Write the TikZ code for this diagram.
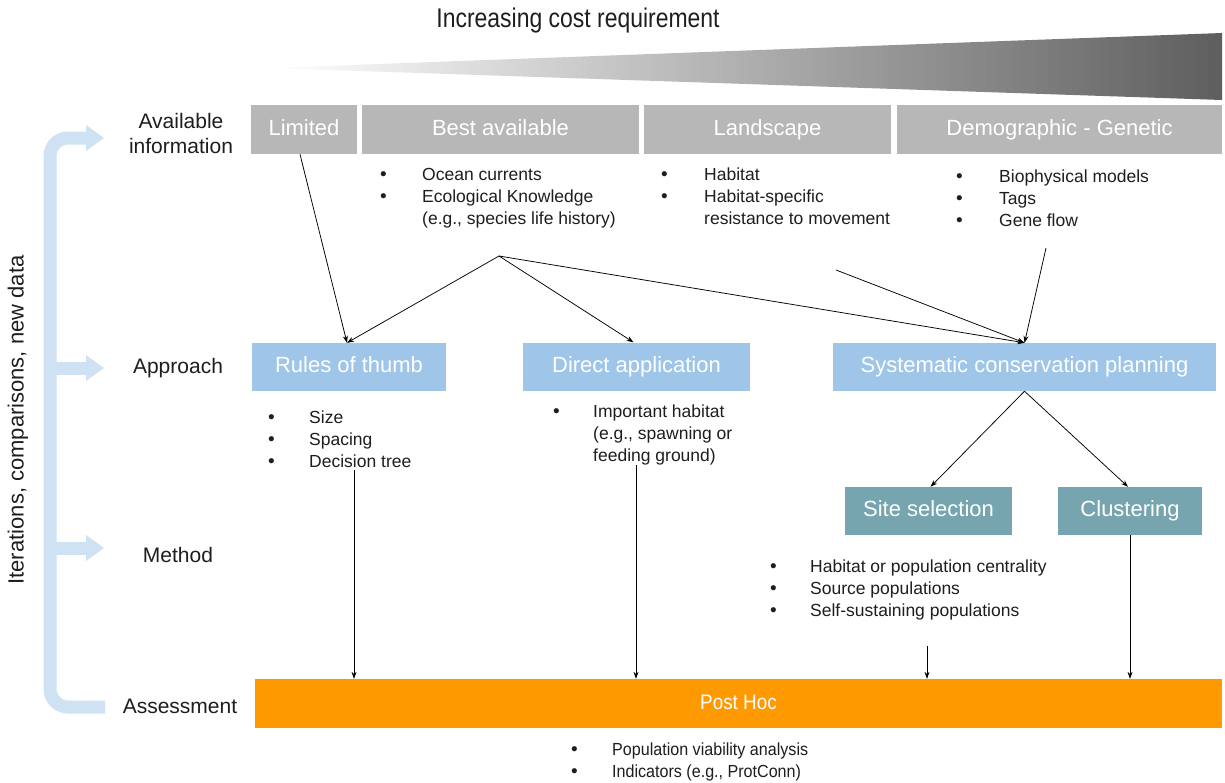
\documentclass[tikz,border=0pt]{standalone}
\usepackage{fontspec}
\setmainfont{Liberation Sans}
\usetikzlibrary{arrows.meta,calc}
\definecolor{infogray}{HTML}{B7B7B7}
\definecolor{apblue}{HTML}{9FC5E8}
\definecolor{mteal}{HTML}{76A5AF}
\definecolor{phorange}{HTML}{FF9900}
\definecolor{brk}{HTML}{CFE2F3}
\definecolor{wedgedark}{HTML}{5E5E5E}
\definecolor{txt}{HTML}{1E1E1E}
\newcommand{\blt}{{\fontsize{19}{22}\selectfont\textbullet}}
\tikzset{
  box/.style={inner sep=0pt, text=white, font=\fontsize{22}{25}\selectfont, text height=16pt, text depth=5pt},
  infobox/.style={box, fill=infogray, minimum height=49pt},
  apbox/.style={box, fill=apblue, minimum height=48pt},
  mbox/.style={box, fill=mteal, minimum height=48pt},
  arr/.style={-{Stealth[length=7pt,width=5pt]}, line width=0.75pt, black},
  lab/.style={font=\fontsize{21}{25}\selectfont, text=txt, align=center, inner sep=0pt},
  blist/.style={anchor=north west, inner sep=0pt, font=\fontsize{17.5}{22}\selectfont, text=txt},
  brkline/.style={line width=13pt, brk},
  brkhead/.style={fill=brk, draw=none}
}
\begin{document}
\begin{tikzpicture}[x=1pt,y=-1pt]
\useasboundingbox (0,0) rectangle (1225,782);
\fill[white] (0,0) rectangle (1225,782);

% title and wedge
\node[font=\fontsize{27}{30}\selectfont, text=txt, inner sep=0pt] (title) at (578,21) {\scalebox{0.85}[1]{Increasing cost requirement}};
\shade[left color=white, right color=wedgedark] (270,68) -- (1222,33) -- (1222,100) -- cycle;

% left bracket
\draw[brkline, rounded corners=18pt] (88,138) -- (50,138) -- (50,707) -- (105,707);
\draw[brkline] (50,368) -- (88,368);
\draw[brkline] (50,548) -- (88,548);
\fill[brkhead] (86,125) -- (104,138) -- (86,151) -- cycle;
\fill[brkhead] (86,355) -- (104,368) -- (86,381) -- cycle;
\fill[brkhead] (86,535) -- (104,548) -- (86,561) -- cycle;
\node[lab, rotate=90, font=\fontsize{22}{25}\selectfont] (iter) at (18,420) {Iterations, comparisons, new data};

% row labels
\node[lab] (lavail) at (181,133) {Available\\information};
\node[lab] (lappr) at (178,368) {Approach};
\node[lab] (lmeth) at (178,555) {Method};
\node[lab] (lass) at (180,706) {Assessment};

% information boxes
\node[infobox, minimum width=106pt] (lim) at (304,129.5) {Limited};
\node[infobox, minimum width=277pt] (best) at (500.5,129.5) {Best available};
\node[infobox, minimum width=247pt] (land) at (767.5,129.5) {Landscape};
\node[infobox, minimum width=325pt] (demo) at (1059.5,129.5) {Demographic - Genetic};

% information bullets
\node[blist] (bbest) at (380,165) {\begin{tabular}{@{}p{42pt}@{}l@{}}\blt & Ocean currents\\ \blt & Ecological Knowledge\\ & (e.g., species life history)\end{tabular}};
\node[blist] (bland) at (661,165) {\begin{tabular}{@{}p{43pt}@{}l@{}}\blt & Habitat\\ \blt & Habitat-specific\\ & resistance to movement\end{tabular}};
\node[blist] (bdemo) at (956,167) {\begin{tabular}{@{}p{43pt}@{}l@{}}\blt & Biophysical models\\ \blt & Tags\\ \blt & Gene flow\end{tabular}};

% approach boxes
\node[apbox, minimum width=194pt] (rot) at (349,367) {Rules of thumb};
\node[apbox, minimum width=227pt] (dir) at (636.5,366.5) {Direct application};
\node[apbox, minimum width=383pt] (scp) at (1024.5,367) {Systematic conservation planning};

% approach bullets
\node[blist] (brot) at (268,408) {\begin{tabular}{@{}p{41pt}@{}l@{}}\blt & Size\\ \blt & Spacing\\ \blt & Decision tree\end{tabular}};
\node[blist] (bdir) at (553,402) {\begin{tabular}{@{}p{40pt}@{}l@{}}\blt & Important habitat\\ & (e.g., spawning or\\ & feeding ground)\end{tabular}};

% method boxes
\node[mbox, minimum width=167pt] (site) at (928.5,511) {Site selection};
\node[mbox, minimum width=144pt] (clu) at (1130,511) {Clustering};

% method bullets
\node[blist] (bsite) at (770,557) {\begin{tabular}{@{}p{40pt}@{}l@{}}\blt & Habitat or population centrality\\ \blt & Source populations\\ \blt & Self-sustaining populations\end{tabular}};

% assessment
\node[box, fill=phorange, minimum width=967pt, minimum height=49pt, font=\fontsize{21}{24}\selectfont] (post) at (738.5,703.5) {\scalebox{0.9}[1]{Post Hoc}};
\node[blist] (bpost) at (571,740) {\begin{tabular}{@{}p{41pt}@{}l@{}}\blt & \scalebox{0.92}[1]{Population viability analysis}\\ \blt & \scalebox{0.92}[1]{Indicators (e.g., ProtConn)}\end{tabular}};

% connectors
\coordinate (hub) at (499,256);
\coordinate (landend) at (836,270);
\coordinate (demoend) at (1046,248);
\coordinate (rotend) at (354,470);
\coordinate (dirend) at (636,465);
\coordinate (siteend) at (927,646);

\draw[arr] ([xshift=-4pt]lim.south) -- ([xshift=-2pt]rot.north);
\draw[arr] (hub) -- ([xshift=-2pt]rot.north);
\draw[arr] (hub) -- ([xshift=-3pt]dir.north);
\draw[arr] (hub) -- (scp.north);
\draw[arr] (landend) -- (scp.north);
\draw[arr] (demoend) -- (scp.north);
\draw[arr] (scp.south) -- ([xshift=2pt]site.north);
\draw[arr] (scp.south) -- ([xshift=-2pt]clu.north);
\draw[arr] (rotend) -- (post.north -| rotend);
\draw[arr] (dirend) -- (post.north -| dirend);
\draw[arr] (siteend) -- (post.north -| siteend);
\draw[arr] (clu.south) -- (post.north -| clu.south);
\end{tikzpicture}
\end{document}
